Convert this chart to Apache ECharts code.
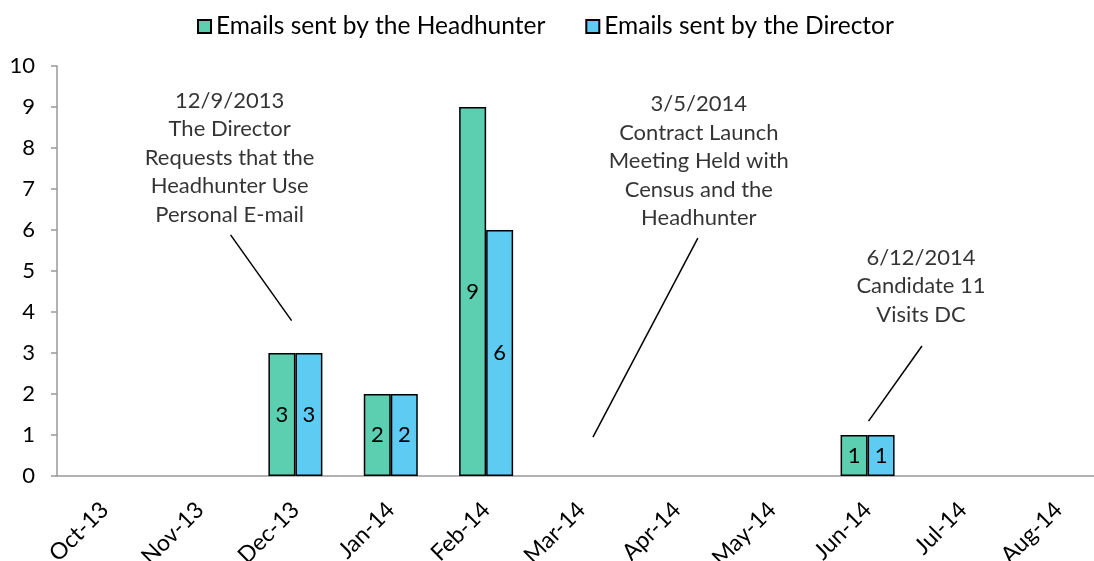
<!DOCTYPE html>
<html>
	<head>
		<meta charset="utf-8" />
		<title>Emails sent</title>
		<style type="text/css">
			html, body {margin:0;padding:0;background:#fff;}
			#chart {width:1094px;height:561px;}
		</style>
	</head>
	<body>
		<div id="chart"></div>
		<script src="https://cdn.jsdelivr.net/npm/echarts@6/dist/echarts.min.js"></script>
		<script type="text/javascript">
			// data
			const months = ['Oct-13', 'Nov-13', 'Dec-13', 'Jan-14', 'Feb-14', 'Mar-14', 'Apr-14', 'May-14', 'Jun-14', 'Jul-14', 'Aug-14'];
			const headhunter = [0, 0, 3, 2, 9, 0, 0, 0, 1, 0, 0];
			const director = [0, 0, 3, 2, 6, 0, 0, 0, 1, 0, 0];
			const seriesNames = ['Emails sent by the Headhunter', 'Emails sent by the Director'];
			// annotations: text position and leader line, in (month position, count) units
			const noteTexts = [
				['12/9/2013', 'The Director', 'Requests that the', 'Headhunter Use', 'Personal E-mail'],
				['3/5/2014', 'Contract Launch', 'Meeting Held with', 'Census and the', 'Headhunter'],
				['6/12/2014', 'Candidate 11', 'Visits DC']
			];
			const noteAt = [[1.81, 7.76], [6.73, 7.68], [9.06, 4.63]];
			const noteLines = [
				[[1.82, 5.88], [2.46, 3.79]],
				[[6.72, 5.80], [5.62, 0.95]],
				[[9.07, 3.17], [8.51, 1.34]]
			];

			const FONT = 'Lato';
			const chart = echarts.init(document.getElementById('chart'));

			const barStyle = (color) => ({
				color: color,
				borderColor: '#000',
				borderWidth: 1.5
			});
			const barLabel = {
				show: true,
				position: 'inside',
				color: '#000',
				textBorderWidth: 0,
				fontFamily: FONT,
				fontSize: 22
			};
			//zero months draw no bar
			const noZero = arr => arr.map(v => v === 0 ? null : v);

			const series = [{
				name: seriesNames[0],
				type: 'bar',
				data: noZero(headhunter),
				barWidth: 27,
				barGap: '0%',
				itemStyle: barStyle('#5ccfb0'),
				label: barLabel
			}, {
				name: seriesNames[1],
				type: 'bar',
				data: noZero(director),
				barWidth: 27,
				itemStyle: barStyle('#5ecbf3'),
				label: barLabel
			}];

			//leader lines
			noteLines.forEach(seg => {
				series.push({
					type: 'line',
					xAxisIndex: 1,
					data: seg,
					symbol: 'none',
					silent: true,
					lineStyle: {color: '#000', width: 1.5}
				});
			});
			//annotation text
			series.push({
				type: 'scatter',
				xAxisIndex: 1,
				symbolSize: 0,
				silent: true,
				data: noteAt.map((p, i) => ({value: p, text: noteTexts[i].join('\n')})),
				label: {
					show: true,
					position: 'inside',
					align: 'center',
					verticalAlign: 'middle',
					color: '#000',
					textBorderWidth: 0,
					fontFamily: FONT,
					fontSize: 22,
					lineHeight: 28.5,
					formatter: p => p.data.text
				}
			});

			const option = {
				animation: false,
				textStyle: {fontFamily: FONT},
				legend: {
					data: seriesNames,
					top: 9,
					left: 192,
					icon: 'rect',
					itemWidth: 13,
					itemHeight: 13,
					itemGap: 40,
					textStyle: {fontFamily: FONT, fontSize: 24.5, color: '#000'}
				},
				grid: {
					left: 57,
					width: 1049,
					top: 66,
					height: 410,
					outerBoundsMode: 'none'
				},
				xAxis: [{
					type: 'category',
					data: months,
					axisLine: {lineStyle: {color: '#999', width: 1.5}},
					axisTick: {length: 7, lineStyle: {color: '#999', width: 1.5}},
					axisLabel: {
						interval: 0,
						rotate: 45,
						margin: 30,
						color: '#000',
						fontFamily: FONT,
						fontSize: 23
					}
				}, {
					type: 'value',
					min: 0,
					max: 11,
					show: false
				}],
				yAxis: {
					type: 'value',
					min: 0,
					max: 10,
					interval: 1,
					axisLine: {show: true, lineStyle: {color: '#999', width: 1.5}},
					axisTick: {show: true, length: 6, lineStyle: {color: '#999', width: 1.5}},
					axisLabel: {
						margin: 22,
						color: '#000',
						fontFamily: FONT,
						fontSize: 22
					},
					splitLine: {show: false}
				},
				series: series
			};
			chart.setOption(option);
		</script>
	</body>
</html>
